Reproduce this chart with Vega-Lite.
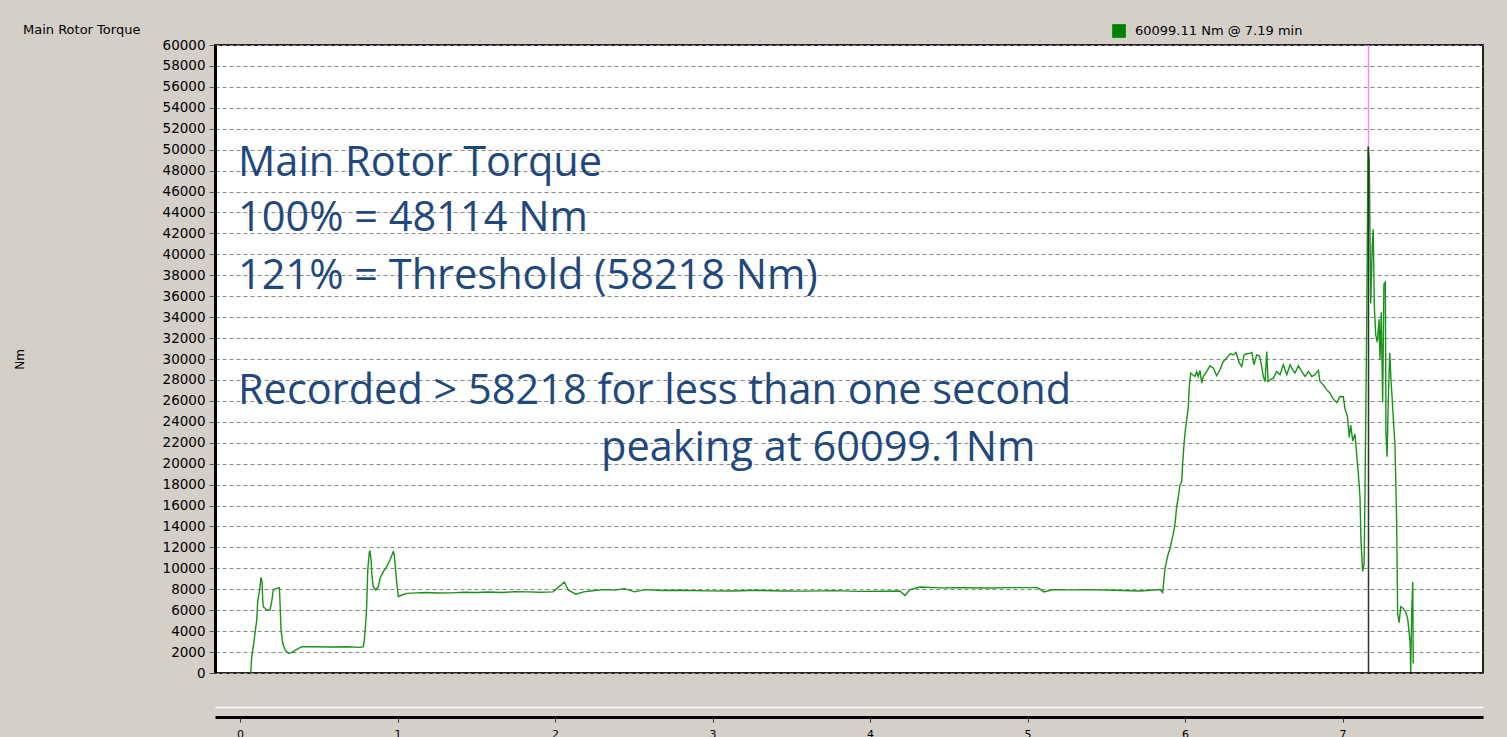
{
  "$schema": "https://vega.github.io/schema/vega-lite/v6.json",
  "width": 1268,
  "height": 628,
  "autosize": {"type": "none"},
  "padding": {"left": 215, "top": 45, "right": 24, "bottom": 64},
  "background": "#D4D0C8",
  "config": {"view": {"fill": "#FFFFFF", "stroke": "#222222", "strokeWidth": 2}, "font": "DejaVu Sans"},
  "title": {"text": "Main Rotor Torque", "anchor": "start", "frame": "group", "dx": -192, "dy": 17, "fontSize": 13, "fontWeight": "normal", "font": "DejaVu Sans", "color": "#000000", "offset": 4},
  "datasets": {
    "torque": [
      {"t": 0.068, "v": 0}, {"t": 0.074, "v": 1560}, {"t": 0.084, "v": 2510}, {"t": 0.095, "v": 3790}, {"t": 0.106, "v": 5060},
      {"t": 0.112, "v": 6810}, {"t": 0.127, "v": 8250}, {"t": 0.133, "v": 9140}, {"t": 0.140, "v": 8720}, {"t": 0.144, "v": 6970},
      {"t": 0.148, "v": 6330}, {"t": 0.170, "v": 6020}, {"t": 0.190, "v": 6020}, {"t": 0.201, "v": 6810}, {"t": 0.211, "v": 7930},
      {"t": 0.233, "v": 8090}, {"t": 0.250, "v": 8150}, {"t": 0.254, "v": 6660}, {"t": 0.260, "v": 4110}, {"t": 0.271, "v": 2840},
      {"t": 0.286, "v": 2200}, {"t": 0.307, "v": 1880}, {"t": 0.328, "v": 1940}, {"t": 0.360, "v": 2260}, {"t": 0.392, "v": 2510},
      {"t": 0.465, "v": 2510}, {"t": 0.571, "v": 2480}, {"t": 0.677, "v": 2510}, {"t": 0.762, "v": 2450}, {"t": 0.783, "v": 2510},
      {"t": 0.789, "v": 3150}, {"t": 0.798, "v": 4750}, {"t": 0.804, "v": 6330}, {"t": 0.811, "v": 9840}, {"t": 0.821, "v": 11590},
      {"t": 0.825, "v": 11650}, {"t": 0.832, "v": 10800}, {"t": 0.838, "v": 9200}, {"t": 0.846, "v": 8250}, {"t": 0.862, "v": 7930},
      {"t": 0.878, "v": 8250}, {"t": 0.889, "v": 9050}, {"t": 0.910, "v": 9680}, {"t": 0.931, "v": 10160}, {"t": 0.952, "v": 10800},
      {"t": 0.973, "v": 11590}, {"t": 0.978, "v": 11400}, {"t": 0.984, "v": 10480}, {"t": 0.995, "v": 8570}, {"t": 1.005, "v": 7290},
      {"t": 1.027, "v": 7450}, {"t": 1.058, "v": 7610}, {"t": 1.120, "v": 7660}, {"t": 1.178, "v": 7690}, {"t": 1.260, "v": 7640},
      {"t": 1.340, "v": 7660}, {"t": 1.420, "v": 7720}, {"t": 1.502, "v": 7690}, {"t": 1.580, "v": 7740}, {"t": 1.663, "v": 7690},
      {"t": 1.745, "v": 7760}, {"t": 1.825, "v": 7750}, {"t": 1.900, "v": 7720}, {"t": 1.987, "v": 7750}, {"t": 2.036, "v": 8375},
      {"t": 2.059, "v": 8690}, {"t": 2.085, "v": 7910}, {"t": 2.133, "v": 7530}, {"t": 2.182, "v": 7750}, {"t": 2.250, "v": 7880},
      {"t": 2.311, "v": 7970}, {"t": 2.380, "v": 7920}, {"t": 2.441, "v": 8060}, {"t": 2.506, "v": 7750}, {"t": 2.571, "v": 7970},
      {"t": 2.680, "v": 7880}, {"t": 2.798, "v": 7910}, {"t": 2.960, "v": 7850}, {"t": 3.121, "v": 7840}, {"t": 3.280, "v": 7900},
      {"t": 3.446, "v": 7840}, {"t": 3.600, "v": 7820}, {"t": 3.769, "v": 7870}, {"t": 3.930, "v": 7800}, {"t": 4.093, "v": 7810},
      {"t": 4.190, "v": 7840}, {"t": 4.222, "v": 7410}, {"t": 4.254, "v": 7970}, {"t": 4.320, "v": 8220}, {"t": 4.450, "v": 8130},
      {"t": 4.578, "v": 8160}, {"t": 4.740, "v": 8120}, {"t": 4.902, "v": 8160}, {"t": 5.065, "v": 8160}, {"t": 5.105, "v": 7750},
      {"t": 5.162, "v": 7970}, {"t": 5.280, "v": 7940}, {"t": 5.390, "v": 7970}, {"t": 5.549, "v": 7910}, {"t": 5.714, "v": 7840},
      {"t": 5.841, "v": 7970}, {"t": 5.858, "v": 7690}, {"t": 5.873, "v": 9980}, {"t": 5.884, "v": 10780}, {"t": 5.894, "v": 11420},
      {"t": 5.905, "v": 11900}, {"t": 5.916, "v": 12700}, {"t": 5.926, "v": 13330}, {"t": 5.937, "v": 14290}, {"t": 5.947, "v": 15890},
      {"t": 5.958, "v": 16840}, {"t": 5.968, "v": 17960}, {"t": 5.979, "v": 18280}, {"t": 5.985, "v": 20030}, {"t": 5.994, "v": 21950},
      {"t": 6.002, "v": 23220}, {"t": 6.011, "v": 24180}, {"t": 6.021, "v": 25460}, {"t": 6.027, "v": 27370}, {"t": 6.036, "v": 28650},
      {"t": 6.049, "v": 28490}, {"t": 6.063, "v": 28330}, {"t": 6.074, "v": 28810}, {"t": 6.084, "v": 28330}, {"t": 6.095, "v": 28910},
      {"t": 6.106, "v": 27690}, {"t": 6.116, "v": 28330}, {"t": 6.138, "v": 28810}, {"t": 6.159, "v": 29350}, {"t": 6.180, "v": 29130},
      {"t": 6.201, "v": 28400}, {"t": 6.222, "v": 28970}, {"t": 6.243, "v": 29770}, {"t": 6.265, "v": 30090}, {"t": 6.286, "v": 30500},
      {"t": 6.307, "v": 30400}, {"t": 6.324, "v": 30620}, {"t": 6.345, "v": 29610}, {"t": 6.360, "v": 29290}, {"t": 6.375, "v": 30400},
      {"t": 6.392, "v": 30500}, {"t": 6.413, "v": 30560}, {"t": 6.424, "v": 30620}, {"t": 6.438, "v": 29450}, {"t": 6.455, "v": 30400},
      {"t": 6.472, "v": 30300}, {"t": 6.483, "v": 29610}, {"t": 6.497, "v": 28330}, {"t": 6.508, "v": 27850}, {"t": 6.519, "v": 30720},
      {"t": 6.527, "v": 27850}, {"t": 6.540, "v": 28010}, {"t": 6.561, "v": 28170}, {"t": 6.582, "v": 28810}, {"t": 6.603, "v": 28490},
      {"t": 6.624, "v": 29450}, {"t": 6.646, "v": 28490}, {"t": 6.667, "v": 29450}, {"t": 6.684, "v": 28970}, {"t": 6.698, "v": 28650},
      {"t": 6.720, "v": 29350}, {"t": 6.741, "v": 28810}, {"t": 6.762, "v": 28330}, {"t": 6.783, "v": 28810}, {"t": 6.805, "v": 28330},
      {"t": 6.825, "v": 28490}, {"t": 6.847, "v": 28910}, {"t": 6.857, "v": 27850}, {"t": 6.878, "v": 27530}, {"t": 6.900, "v": 27050},
      {"t": 6.921, "v": 26730}, {"t": 6.942, "v": 26160}, {"t": 6.963, "v": 25840}, {"t": 6.984, "v": 26410}, {"t": 7.005, "v": 26390},
      {"t": 7.016, "v": 25210}, {"t": 7.031, "v": 24530}, {"t": 7.043, "v": 22510}, {"t": 7.052, "v": 23690}, {"t": 7.065, "v": 22170},
      {"t": 7.079, "v": 22850}, {"t": 7.090, "v": 20830}, {"t": 7.100, "v": 19140}, {"t": 7.111, "v": 16780}, {"t": 7.117, "v": 12740},
      {"t": 7.128, "v": 9710}, {"t": 7.137, "v": 10380}, {"t": 7.143, "v": 17460}, {"t": 7.154, "v": 33970}, {"t": 7.162, "v": 50310},
      {"t": 7.170, "v": 48970}, {"t": 7.179, "v": 35310}, {"t": 7.189, "v": 40880}, {"t": 7.195, "v": 42390}, {"t": 7.202, "v": 34980},
      {"t": 7.211, "v": 32280}, {"t": 7.221, "v": 31610}, {"t": 7.232, "v": 33800}, {"t": 7.238, "v": 29930}, {"t": 7.246, "v": 34470},
      {"t": 7.255, "v": 25880}, {"t": 7.263, "v": 37170}, {"t": 7.272, "v": 37340}, {"t": 7.276, "v": 22850}, {"t": 7.283, "v": 20660},
      {"t": 7.291, "v": 26220}, {"t": 7.300, "v": 30600}, {"t": 7.308, "v": 27900}, {"t": 7.314, "v": 26560}, {"t": 7.323, "v": 24200},
      {"t": 7.333, "v": 21840}, {"t": 7.344, "v": 14420}, {"t": 7.350, "v": 5660}, {"t": 7.359, "v": 4820}, {"t": 7.370, "v": 6340},
      {"t": 7.386, "v": 6170}, {"t": 7.401, "v": 5830}, {"t": 7.414, "v": 5160}, {"t": 7.422, "v": 3980}, {"t": 7.429, "v": 2970},
      {"t": 7.433, "v": 100}, {"t": 7.439, "v": 5660}, {"t": 7.446, "v": 8700}, {"t": 7.449, "v": 900}
    ],
    "notes": [
      {"t": -0.013, "v": 47480, "text": "Main Rotor Torque"},
      {"t": -0.013, "v": 42230, "text": "100% = 48114 Nm"},
      {"t": -0.013, "v": 36690, "text": "121% = Threshold (58218 Nm)"},
      {"t": -0.013, "v": 25700, "text": "Recorded > 58218 for less than one second"},
      {"t": 2.292, "v": 20250, "text": "peaking at 60099.1Nm"}
    ]
  },
  "layer": [
    {
      "data": {"name": "torque"},
      "mark": {"type": "line", "strokeWidth": 1.4, "clip": true, "color": "#179317"},
      "encoding": {
        "x": {"field": "t", "type": "quantitative", "scale": {"domain": [-0.159, 7.892], "nice": false, "zero": false},
          "axis": {"title": null, "orient": "bottom", "offset": 44, "domainWidth": 3, "domainColor": "#000000", "grid": false,
            "values": [0,0.25,0.5,0.75,1,1.25,1.5,1.75,2,2.25,2.5,2.75,3,3.25,3.5,3.75,4,4.25,4.5,4.75,5,5.25,5.5,5.75,6,6.25,6.5,6.75,7,7.25,7.5,7.75],
            "format": "d", "labelExpr": "datum.value % 1 === 0 ? datum.label : ''", "labelOverlap": false,
            "tickColor": "#333333", "tickSize": 5, "labelFontSize": 11, "labelColor": "#000000", "labelPadding": 6, "labelFont": "DejaVu Sans"}},
        "y": {"field": "v", "type": "quantitative", "title": "Nm", "scale": {"domain": [0, 60000], "nice": false},
          "axis": {"values": [0,2000,4000,6000,8000,10000,12000,14000,16000,18000,20000,22000,24000,26000,28000,30000,32000,34000,36000,38000,40000,42000,44000,46000,48000,50000,52000,54000,56000,58000,60000],
            "format": "d", "labelOverlap": false, "grid": true, "gridDash": [4, 3], "gridColor": "#8a8a8a", "gridWidth": 1,
            "domainWidth": 3, "domainColor": "#000000", "tickSize": 6, "tickColor": "#555555",
            "labelFontSize": 13.5, "labelColor": "#000000", "labelPadding": 4, "labelFont": "DejaVu Sans",
            "titleFontSize": 12, "titleFontWeight": "normal", "titleColor": "#000000", "titlePadding": 136, "titleFont": "DejaVu Sans"}},
        "color": {"datum": "60099.11 Nm @ 7.19 min", "type": "nominal", "scale": {"range": ["#179317"]},
          "legend": {"title": null, "orient": "none", "legendX": 897, "legendY": -21, "symbolType": "square", "symbolSize": 169,
            "labelFontSize": 13, "labelColor": "#000000", "labelFont": "DejaVu Sans", "labelOffset": 9, "labelLimit": 0, "padding": 0,
            "encode": {"symbols": {"update": {"fill": {"value": "#008000"}, "stroke": {"value": "#000000"}, "strokeWidth": {"value": 1}}}}}}
      }
    },
    {
      "data": {"values": [{"t": 7.165, "v": 60000, "v2": 50300}]},
      "mark": {"type": "rule", "color": "#FF80FF", "strokeWidth": 1.5},
      "encoding": {
        "x": {"field": "t", "type": "quantitative", "axis": {"title": null, "orient": "bottom", "offset": 34, "domainColor": "#FFFFFF", "domainWidth": 1.5, "labels": false, "ticks": false, "grid": false}},
        "y": {"field": "v", "type": "quantitative", "title": "Nm",
          "axis": {"values": [0,2000,4000,6000,8000,10000,12000,14000,16000,18000,20000,22000,24000,26000,28000,30000,32000,34000,36000,38000,40000,42000,44000,46000,48000,50000,52000,54000,56000,58000,60000],
            "format": "d", "labelOverlap": false, "grid": true, "gridDash": [4, 3], "gridColor": "#8a8a8a", "gridWidth": 1,
            "domainWidth": 3, "domainColor": "#000000", "tickSize": 6, "tickColor": "#555555",
            "labelFontSize": 13.5, "labelColor": "#000000", "labelPadding": 4, "labelFont": "DejaVu Sans",
            "titleFontSize": 12, "titleFontWeight": "normal", "titleColor": "#000000", "titlePadding": 136, "titleFont": "DejaVu Sans"}},
        "y2": {"field": "v2"}
      }
    },
    {
      "data": {"values": [{"t": 7.165, "v": 50300, "v2": 0}]},
      "mark": {"type": "rule", "color": "#303030", "strokeWidth": 1.5},
      "encoding": {
        "x": {"field": "t", "type": "quantitative", "axis": null},
        "y": {"field": "v", "type": "quantitative", "title": "Nm",
          "axis": {"values": [0,2000,4000,6000,8000,10000,12000,14000,16000,18000,20000,22000,24000,26000,28000,30000,32000,34000,36000,38000,40000,42000,44000,46000,48000,50000,52000,54000,56000,58000,60000],
            "format": "d", "labelOverlap": false, "grid": true, "gridDash": [4, 3], "gridColor": "#8a8a8a", "gridWidth": 1,
            "domainWidth": 3, "domainColor": "#000000", "tickSize": 6, "tickColor": "#555555",
            "labelFontSize": 13.5, "labelColor": "#000000", "labelPadding": 4, "labelFont": "DejaVu Sans",
            "titleFontSize": 12, "titleFontWeight": "normal", "titleColor": "#000000", "titlePadding": 136, "titleFont": "DejaVu Sans"}},
        "y2": {"field": "v2"}
      }
    },
    {
      "data": {"name": "notes"},
      "mark": {"type": "text", "align": "left", "baseline": "alphabetic", "font": "Open Sans", "fontSize": 41.5, "color": "#1F497D"},
      "encoding": {
        "x": {"field": "t", "type": "quantitative", "axis": null},
        "y": {"field": "v", "type": "quantitative", "title": "Nm",
          "axis": {"values": [0,2000,4000,6000,8000,10000,12000,14000,16000,18000,20000,22000,24000,26000,28000,30000,32000,34000,36000,38000,40000,42000,44000,46000,48000,50000,52000,54000,56000,58000,60000],
            "format": "d", "labelOverlap": false, "grid": true, "gridDash": [4, 3], "gridColor": "#8a8a8a", "gridWidth": 1,
            "domainWidth": 3, "domainColor": "#000000", "tickSize": 6, "tickColor": "#555555",
            "labelFontSize": 13.5, "labelColor": "#000000", "labelPadding": 4, "labelFont": "DejaVu Sans",
            "titleFontSize": 12, "titleFontWeight": "normal", "titleColor": "#000000", "titlePadding": 136, "titleFont": "DejaVu Sans"}},
        "text": {"field": "text"}
      }
    }
  ],
  "resolve": {"axis": {"x": "independent"}}
}
